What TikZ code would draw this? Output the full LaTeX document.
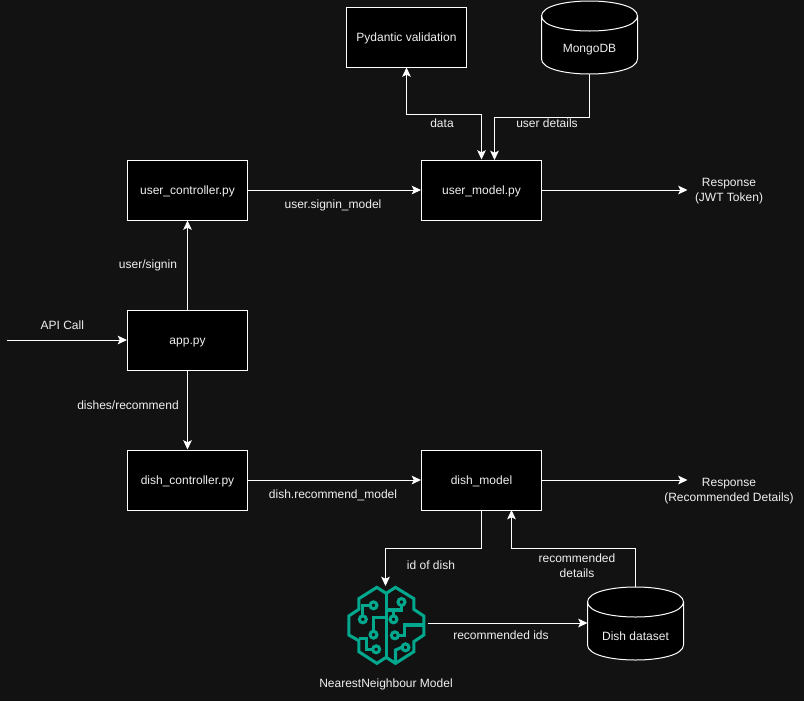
\documentclass[tikz,border=0pt]{standalone}
\usepackage{fontspec}
\setmainfont{Liberation Sans}
\usetikzlibrary{arrows.meta}
\definecolor{bgc}{HTML}{121212}
\definecolor{brainc}{HTML}{01A88D}
\definecolor{txtc}{HTML}{F0F0F0}
\tikzset{
  x=0.75pt,y=-0.75pt,
  box/.style={draw=white,fill=black,line width=0.75pt,minimum width=90pt,minimum height=45pt,inner sep=0pt,text=txtc,font=\fontsize{9}{11}\selectfont,text height=7.6pt,text depth=1.5pt},
  dbanchor/.style={minimum width=72pt,minimum height=54.75pt,inner sep=0pt,outer sep=0pt},
  dbline/.style={draw=white,fill=black,line width=0.75pt},
  conn/.style={draw=white,line width=0.75pt,-{Stealth[length=7pt,width=6.5pt,inset=1.6pt]}},
  bothconn/.style={draw=white,line width=0.75pt,{Stealth[length=7pt,width=6.5pt,inset=1.6pt]}-{Stealth[length=7pt,width=6.5pt,inset=1.6pt]}},
  lbl/.style={text=txtc,font=\fontsize{9}{11.25}\selectfont,inner sep=0pt,align=center},
  brainline/.style={draw=brainc,line width=2.3pt,line join=miter},
}
\newcommand{\dbdraw}[2]{%
  \path[dbline] (#1,#2+15) .. controls (#1,#2-5) and (#1+96,#2-5) .. (#1+96,#2+15)
    -- (#1+96,#2+58) .. controls (#1+96,#2+78) and (#1,#2+78) .. (#1,#2+58) -- cycle;
  \path[dbline,fill=none] (#1,#2+15) .. controls (#1,#2+35) and (#1+96,#2+35) .. (#1+96,#2+15);
}
\begin{document}
\begin{tikzpicture}
\useasboundingbox[fill=bgc] (0,0) rectangle (804,701);
\begin{scope}[xshift=-0.375pt]
% boxes
\node[box] (pyd) at (407,37) {Pydantic validation};
\node[box] (uctl) at (188,190) {user\_controller.py};
\node[box] (umod) at (482,190) {user\_model.py};
\node[box] (app) at (188,340) {app.py};
\node[box] (dctl) at (188,480) {dish\_controller.py};
\node[box] (dmod) at (482,480) {dish\_model};
% cylinders
\dbdraw{542}{1}
\node[dbanchor,anchor=north west] (mongo) at (542,1) {};
\node[lbl] (mongolbl) at (590,50) {MongoDB};
\dbdraw{588}{587}
\node[dbanchor,anchor=north west] (dset) at (588,587) {};
\node[lbl] (dsetlbl) at (636,636) {Dish dataset};
% brain icon
\node[minimum width=58.5pt,minimum height=58.5pt,inner sep=0pt,outer sep=0pt] (brain) at (386,626) {};
\begin{scope}[shift={(320,570)},x=0.25pt,y=-0.25pt]
  \path[brainline] (200,70) -- (172,52) -- (118,86) -- (118,118) -- (88,138) -- (88,195) -- (118,212) -- (118,245) -- (172,280) -- (200,262) -- (228,280) -- (283,245) -- (283,215) -- (313,195) -- (313,138) -- (283,118) -- (283,86) -- (228,52) -- cycle;
  \path[brainline] (200,70) -- (200,262);
  \path[brainline] (162,106) circle[radius=2.6pt];
  \path[brainline] (151,106) -- (130,106) -- (130,137);
  \path[brainline] (130,148) circle[radius=2.6pt];
  \path[brainline] (246,96) circle[radius=2.6pt];
  \path[brainline] (200,120) -- (246,120) -- (246,107);
  \path[brainline] (222,120) -- (222,137);
  \path[brainline] (222,148) circle[radius=2.6pt];
  \path[brainline] (162,194) circle[radius=2.6pt];
  \path[brainline] (162,183) -- (162,143) -- (200,143);
  \path[brainline] (226,196) circle[radius=2.6pt];
  \path[brainline] (237,196) -- (255,196) -- (255,165) -- (313,165);
  \path[brainline] (170,238) circle[radius=2.6pt];
  \path[brainline] (159,238) -- (140,238) -- (140,205) -- (118,205);
  \path[brainline] (258,232) circle[radius=2.6pt];
  \path[brainline] (247,232) -- (228,240) -- (228,280);
\end{scope}
% free ends
\coordinate (apistart) at (7,340);
\coordinate (resp1) at (688,190);
\coordinate (resp2) at (688,480);
\coordinate (brainout) at (428,623);
\coordinate (dsetin) at (588,623);
\coordinate (brainin) at (386,586);
\coordinate (umodL) at (495,160);
\coordinate (dmodR) at (512,510);
% connectors
\draw[conn] (apistart) -- (app.west);
\draw[conn] (app.north) -- (uctl.south);
\draw[conn] (app.south) -- (dctl.north);
\draw[conn] (uctl.east) -- (umod.west);
\draw[conn] (dctl.east) -- (dmod.west);
\draw[conn] (umod.east) -- (resp1);
\draw[conn] (dmod.east) -- (resp2);
\draw[bothconn] (umod.north) -- (482,114) -- (407,114) -- (pyd.south);
\draw[conn] (mongo.south) -- (590,117) -- (495,117) -- (umodL);
\draw[conn] (dmod.south) -- (482,548) -- (386,548) -- (brainin);
\draw[conn] (636,587) -- (636,548) -- (512,548) -- (dmodR);
\draw[conn] (brainout) -- (dsetin);
\end{scope}
% labels
\node[lbl] (l1) at (62.3,325) {API Call};
\node[lbl] (l2) at (148,265) {user/signin};
\node[lbl] (l3) at (128,405) {dishes/recommend};
\node[lbl] (l4) at (333,205) {user.signin\_model};
\node[lbl] (l5) at (333,495) {dish.recommend\_model};
\node[lbl] (l6) at (442,123) {data};
\node[lbl] (l7) at (547,123) {user details};
\node[lbl] (l8) at (729,191) {Response\\(JWT Token)};
\node[lbl] (l9) at (729,491) {Response\\(Recommended Details)};
\node[lbl] (l10) at (431,565) {id of dish};
\node[lbl] (l11) at (577,566) {recommended\\details};
\node[lbl] (l12) at (501,635) {recommended ids};
\node[lbl] (l13) at (386,684) {NearestNeighbour Model};
\end{tikzpicture}
\end{document}
